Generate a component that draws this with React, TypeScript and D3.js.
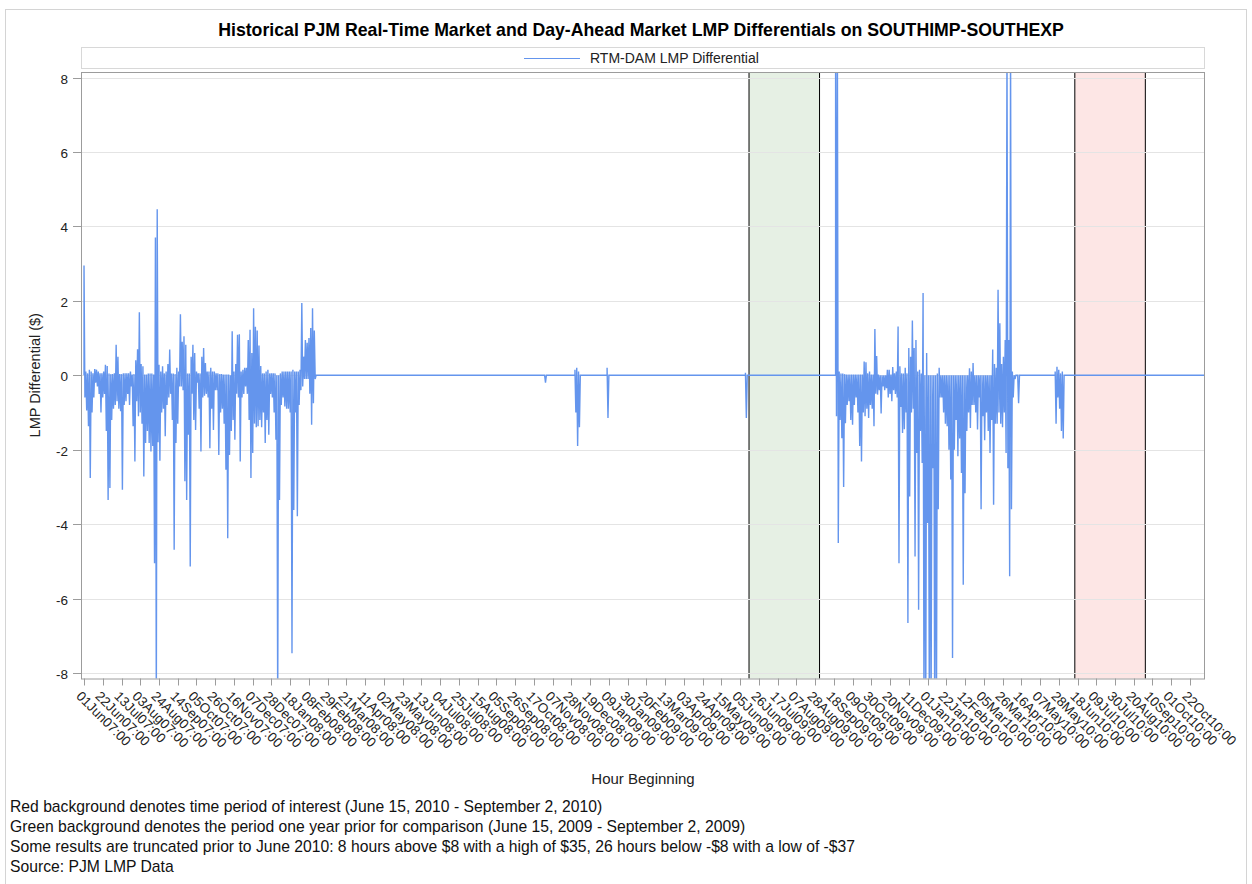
import React from "react";
import * as d3 from "d3";

// ---------- text ----------
const titleText =
  "Historical PJM Real-Time Market and Day-Ahead Market LMP Differentials on SOUTHIMP-SOUTHEXP";
const legendLabel = "RTM-DAM LMP Differential";
const xAxisTitle = "Hour Beginning";
const yAxisTitle = "LMP Differential ($)";
const footnotes = [
  "Red background denotes time period of interest (June 15, 2010 - September 2, 2010)",
  "Green background denotes the period one year prior for comparison (June 15, 2009 - September 2, 2009)",
  "Some results are truncated prior to June 2010: 8 hours above $8 with a high of $35, 26 hours below -$8 with a low of -$37",
  "Source: PJM LMP Data",
];

// ---------- axes ----------
const xTickLabels = [
  "01Jun07:00", "22Jun07:00", "13Jul07:00", "03Aug07:00", "24Aug07:00", "14Sep07:00",
  "05Oct07:00", "26Oct07:00", "16Nov07:00", "07Dec07:00", "28Dec07:00", "18Jan08:00",
  "08Feb08:00", "29Feb08:00", "21Mar08:00", "11Apr08:00", "02May08:00", "23May08:00",
  "13Jun08:00", "04Jul08:00", "25Jul08:00", "15Aug08:00", "05Sep08:00", "26Sep08:00",
  "17Oct08:00", "07Nov08:00", "28Nov08:00", "19Dec08:00", "09Jan09:00", "30Jan09:00",
  "20Feb09:00", "13Mar09:00", "03Apr09:00", "24Apr09:00", "15May09:00", "05Jun09:00",
  "26Jun09:00", "17Jul09:00", "07Aug09:00", "28Aug09:00", "18Sep09:00", "09Oct09:00",
  "30Oct09:00", "20Nov09:00", "11Dec09:00", "01Jan10:00", "22Jan10:00", "12Feb10:00",
  "05Mar10:00", "26Mar10:00", "16Apr10:00", "07May10:00", "28May10:00", "18Jun10:00",
  "09Jul10:00", "30Jul10:00", "20Aug10:00", "10Sep10:00", "01Oct10:00", "22Oct10:00",
];
const yTickValues = [-8, -6, -4, -2, 0, 2, 4, 6, 8];
const xDomainDates = ["2007-05-28T15:00:00Z", "2010-11-07T20:00:00Z"];
const yDomain = [-8.15, 8.15];

// ---------- highlighted periods ----------
const greenPeriod = ["2009-06-15T00:00:00Z", "2009-09-02T00:00:00Z"];
const redPeriod = ["2010-06-15T00:00:00Z", "2010-09-02T00:00:00Z"];

// ---------- series (2-day high / low envelopes of the hourly differential) ----------
const seriesEnd = "2010-11-07T20:00:00Z";

const seg1Start = "2007-06-01T00:00:00Z";
const seg1High = [
  2.95, 0.1, 0.05, 0.15, 0.1, 0.05, 0.17, 0.15, 0.1, 0.05,
  0.05, 0.1, 0.28, 0.25, 0.05, 0.03, 0.03, 0.05, 0.82, 0.5,
  0.03, 0.03, 0.05, 0.05, 0.05, 0.05, 0.1, 0.02, 0.03, 0.4,
  0.7, 1.69, 0.3, 0.24, 0.02, 0.02, 0.05, 0.05, 0.05, 0.02,
  3.7, 4.46, 0.28, 0.1, 0.24, 0.05, 0.1, 0.3, 0.69, 0.05,
  0.05, 0.03, 0.2, 0.1, 1.64, 0.9, 1.05, 0.82, 0.05, 0.05,
  0.5, 0.82, 0.6, 0.1, 0.05, 0.05, 0.5, 0.73, 0.33, 0.1,
  0.1, 0.2, 0.1, 0.1, 0.05, 0.05, 0.03, 0.03, 0.02, 0.02,
  0.02, 0.02, 0.0, 1.18, 0.1, 0.3, 1.09, 1.1, 0.1, 0.15,
  0.2, 0.2, 0.95, 1.22, 0.6, 1.8, 1.3, 1.2, 0.8, 0.25,
  0.05, 0.05, 0.1, 0.15, 0.05, 0.05, 0.05, 0.05, 0.0, 0.0,
  0.05, 0.1, 0.1, 0.1, 0.1, 0.1, 0.1, 0.15, 0.1, 0.1,
  0.1, 0.15, 1.94, 0.5, 0.95, 0.87, 1.0, 1.27, 1.8, 1.2,
];
const seg1Low = [
  -0.6, -0.95, -1.37, -2.76, -1.0, -0.6, -0.2, -0.3, -0.5, -1.0,
  -0.6, -0.5, -1.5, -3.35, -3.03, -1.2, -0.9, -0.8, -0.7, -0.9,
  -0.97, -3.08, -0.8, -0.7, -0.5, -0.8, -0.3, -1.37, -2.32, -0.7,
  -1.1, -1.0, -1.3, -2.72, -1.82, -1.5, -1.82, -2.05, -1.9, -5.05,
  -9, -1.8, -2.3, -1.0, -0.9, -1.64, -0.8, -0.6, -0.5, -1.2,
  -4.69, -1.82, -1.3, -0.3, -0.3, -0.4, -2.85, -3.35, -1.6, -5.14,
  -0.5, -1.2, -1.47, -0.2, -0.9, -2.05, -0.6, -0.55, -0.5, -0.6,
  -1.96, -0.9, -1.47, -0.4, -0.4, -2.14, -1.0, -0.9, -1.3, -2.54,
  -4.38, -2.14, -1.5, -1.2, -1.73, -0.5, -0.6, -2.32, -0.6, -0.5,
  -0.3, -0.5, -1.2, -2.76, -2.09, -1.3, -1.4, -1.37, -1.2, -1.4,
  -1.0, -1.82, -1.2, -1.6, -0.5, -0.6, -1.0, -1.73, -9, -3.35,
  -0.8, -0.6, -0.84, -0.9, -0.9, -1.0, -7.47, -3.62, -1.0, -3.79,
  -0.8, -0.4, -0.3, -0.1, -0.1, -0.1, -0.5, -1.33, -0.75, -0.1,
];

const segAStart = "2008-10-29T00:00:00Z";
const segAHigh = [0.0];
const segALow = [-0.2];

const segBStart = "2008-12-02T00:00:00Z";
const segBHigh = [0.15, 0.2, 0.1];
const segBLow = [-1.0, -1.9, -1.4];

const segCStart = "2009-01-07T00:00:00Z";
const segCHigh = [0.2];
const segCLow = [-1.15];

const segDStart = "2009-06-11T00:00:00Z";
const segDHigh = [0.07];
const segDLow = [-1.15];

const seg2Start = "2009-09-20T00:00:00Z";
const seg2High = [
  9, 9, 0.1, 0.05, 0.05, 0.03, 0.02, 0.02, 0.02, 0.02,
  0.02, 0.02, 0.02, 0.02, 0.02, 0.02, 0.37, 0.35, 0.05, 0.1,
  0.02, 0.02, 1.24, 0.52, 0.02, 0.0, 0.0, 0.0, 0.0, 0.15,
  0.15, 0.02, 0.22, 0.05, 0.1, 1.31, 0.24, 0.05, 0.05, 0.2,
  0.05, 0.73, 0.5, 1.47, 0.73, 0.95, 0.1, 0.15, 0.05, 2.21,
  0.0, 0.6, 0.0, 0.0, 0.0, 0.0, 0.0, 0.05, 0.2, 0.0,
  0.0, 0.0, 0.0, 0.0, 0.0, 0.0, 0.0, 0.0, 0.0, 0.0,
  0.0, 0.0, 0.0, 0.0, 0.0, 0.19, 0.1, 0.33, 0.0, 0.0,
  0.0, 0.0, 0.0, 0.0, 0.0, 0.0, 0.0, 0.0, 0.69, 0.3,
  0.2, 2.3, 1.4, 0.3, 0.5, 0.95, 9, 0.95, 9, 0.1,
  0.0, 0.0, 0.0, 0.0,
];
const seg2Low = [
  -1.1, -4.51, -1.2, -1.69, -3.0, -1.29, -0.8, -0.7, -1.2, -1.33,
  -0.8, -0.6, -1.0, -1.9, -2.32, -1.0, -1.1, -0.9, -1.15, -0.8,
  -0.9, -1.37, -0.5, -0.52, -0.4, -1.03, -0.3, -0.4, -0.35, -0.6,
  -0.5, -0.7, -0.4, -0.5, -0.6, -5.05, -0.85, -1.55, -1.45, -1.0,
  -6.66, -3.26, -1.0, -0.9, -4.87, -2.09, -6.3, -1.5, -2.36, -9,
  -9, -3.97, -9, -9, -2.5, -9, -9, -3.6, -0.6, -0.6,
  -1.0, -1.3, -1.37, -2.0, -2.8, -7.6, -2.0, -1.2, -2.18, -1.7,
  -2.63, -5.63, -3.17, -1.5, -1.0, -1.42, -0.8, -0.8, -1.0, -1.46,
  -0.6, -3.6, -1.1, -1.75, -1.0, -1.5, -2.09, -1.2, -3.48, -1.3,
  -1.3, -1.0, -1.3, -1.4, -1.0, -2.09, -2.5, -5.4, -3.6, -0.6,
  -0.1, 0.0, -0.75, 0.0,
];

const segEStart = "2010-05-24T00:00:00Z";
const segEHigh = [0.1, 0.23, 0.15, 0.05, 0.1];
const segELow = [-1.3, -0.6, -0.9, -1.5, -1.7];

// ---------- build ----------
const DAY = 86400000;
function buildSeries(): [number, number][] {
  const segs = [
    [seg1Start, seg1High, seg1Low],
    [segAStart, segAHigh, segALow],
    [segBStart, segBHigh, segBLow],
    [segCStart, segCHigh, segCLow],
    [segDStart, segDHigh, segDLow],
    [seg2Start, seg2High, seg2Low],
    [segEStart, segEHigh, segELow],
  ] as [string, number[], number[]][];
  const pts: [number, number][] = [];
  for (const [start, hi, lo] of segs) {
    const s = Date.parse(start);
    pts.push([s, 0]);
    for (let i = 0; i < hi.length; i++) {
      pts.push([s + 2 * i * DAY, hi[i]]);
      pts.push([s + (2 * i + 1) * DAY, lo[i]]);
    }
    pts.push([s + 2 * hi.length * DAY, 0]);
  }
  pts.push([Date.parse(seriesEnd), 0]);
  return pts;
}

const W = 1252;
const H = 884;
const plotL = 81;
const plotR = 1205;
const plotT = 72;
const plotB = 678.5;
const FONT = "'Liberation Sans', Arial, Helvetica, sans-serif";
const LINE = "#6495ed";

export default function App() {
  const x = d3
    .scaleUtc()
    .domain(xDomainDates.map((d) => new Date(d)))
    .range([plotL, plotR]);
  const y = d3.scaleLinear().domain(yDomain).range([plotB, plotT]);
  const parseTick = d3.utcParse("%d%b%y:%H");
  const ticks = xTickLabels.map((l) => ({ label: l, date: parseTick(l) as Date }));
  const series = buildSeries();
  const line = d3
    .line<[number, number]>()
    .x((d) => x(new Date(d[0])))
    .y((d) => y(d[1]));
  const bands = [
    { p: greenPeriod, fill: "#e6f0e4" },
    { p: redPeriod, fill: "#fde6e5" },
  ];

  return (
    <svg
      width={W}
      height={H}
      style={{ position: "absolute", left: 0, top: 0, background: "#fff" }}
      fontFamily={FONT}
    >
      <rect x={0} y={0} width={W} height={H} fill="#fff" />
      <rect x={5.5} y={9.5} width={1241} height={900} fill="none" stroke="#d4d4d4" />
      <text x={641} y={36} textAnchor="middle" fontWeight="bold" fontSize={17.7} fill="#000">
        {titleText}
      </text>
      {/* legend */}
      <rect x={81.5} y={47.5} width={1123} height={21} fill="#fff" stroke="#d8d8d8" />
      <line x1={524} x2={580} y1={58.5} y2={58.5} stroke={LINE} strokeWidth={1} />
      <text x={590} y={63} fontSize={14} fill="#222">
        {legendLabel}
      </text>
      <defs>
        <clipPath id="plotClip">
          <rect x={plotL} y={plotT} width={plotR - plotL} height={plotB - plotT} />
        </clipPath>
      </defs>
      {/* bands */}
      {bands.map((b, i) => {
        const x0 = x(new Date(b.p[0]));
        const x1 = x(new Date(b.p[1]));
        return (
          <g key={i}>
            <rect x={x0} y={plotT} width={x1 - x0} height={plotB - plotT} fill={b.fill} />
            <line x1={x0} x2={x0} y1={plotT} y2={plotB} stroke="#000" strokeWidth={1} />
            <line x1={x1} x2={x1} y1={plotT} y2={plotB} stroke="#000" strokeWidth={1} />
          </g>
        );
      })}
      {/* grid */}
      {yTickValues.map((v) => (
        <line
          key={v}
          x1={plotL}
          x2={plotR}
          y1={Math.round(y(v)) + 0.5}
          y2={Math.round(y(v)) + 0.5}
          stroke="#e4e4e4"
          strokeWidth={1}
        />
      ))}
      {/* data */}
      <path
        d={line(series) || ""}
        fill="none"
        stroke={LINE}
        strokeWidth={1.4}
        clipPath="url(#plotClip)"
      />
      {/* frame */}
      <rect
        x={plotL + 0.5}
        y={plotT + 0.5}
        width={plotR - plotL - 1}
        height={plotB - plotT}
        fill="none"
        stroke="#9c9c9c"
      />
      {/* y axis */}
      {yTickValues.map((v) => {
        const yy = Math.round(y(v)) + 0.5;
        return (
          <g key={v}>
            <line x1={plotL - 8} x2={plotL} y1={yy} y2={yy} stroke="#9c9c9c" />
            <text x={plotL - 13} y={yy + 5} textAnchor="end" fontSize={13.5} fill="#222">
              {v}
            </text>
          </g>
        );
      })}
      {/* x axis */}
      {ticks.map((t) => {
        const xx = Math.round(x(t.date)) + 0.5;
        return (
          <g key={t.label}>
            <line x1={xx} x2={xx} y1={plotB} y2={plotB + 7} stroke="#9c9c9c" />
            <text
              transform={`translate(${xx - 9},697) rotate(45)`}
              fontSize={13.5}
              fill="#222"
            >
              {t.label}
            </text>
          </g>
        );
      })}
      <text x={643} y={784} textAnchor="middle" fontSize={15} fill="#222">
        {xAxisTitle}
      </text>
      <text
        transform={`translate(40,${(plotT + plotB) / 2}) rotate(-90)`}
        textAnchor="middle"
        fontSize={14.5}
        fill="#222"
      >
        {yAxisTitle}
      </text>
      {footnotes.map((f, i) => (
        <text key={i} x={10} y={811.5 + i * 20.2} fontSize={15.7} fill="#111">
          {f}
        </text>
      ))}
    </svg>
  );
}
